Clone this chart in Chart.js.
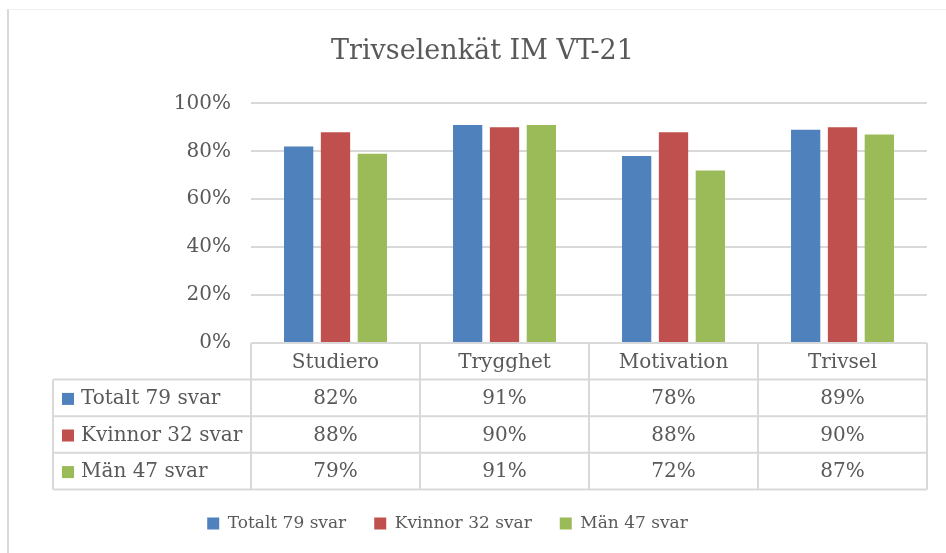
<!DOCTYPE html>
<html>
<head>
<meta charset="utf-8">
<script src="https://cdn.jsdelivr.net/npm/chart.js@4"></script>
<style>
  html, body { margin: 0; padding: 0; background: #fff; }
  #wrap { position: relative; width: 946px; height: 553px; }
  #frame { position: absolute; left: 7px; top: 9px; width: 939px; height: 544px;
           border-left: 2px solid #d9d9d9; border-top: 1px solid #f0f0f0; }
  canvas { position: absolute; left: 0; top: 0; }
</style>
</head>
<body>
<div id="wrap">
  <div id="frame"></div>
  <canvas id="chart" width="946" height="553"></canvas>
</div>
<script>
const categories = ['Studiero', 'Trygghet', 'Motivation', 'Trivsel'];
const seriesNames = ['Totalt 79 svar', 'Kvinnor 32 svar', 'Män 47 svar'];
const totalt = [82, 91, 78, 89];
const kvinnor = [88, 90, 88, 90];
const man = [79, 91, 72, 87];
const colors = ['#4F81BD', '#C0504D', '#9BBB59'];

const textColor = '#595959';
const lineColor = '#d9d9d9';
const font = 'DejaVu Serif';

// data table under the plot, lined up with the category columns
const dataTable = {
  id: 'dataTable',
  afterLayout(chart) {
    // title and legend are not centred on the same point in the original
    chart.titleBlock.left = 38;
    chart.legend.right -= 32;
  },
  afterDraw(chart) {
    const ctx = chart.ctx;
    const xs = chart.scales.x;
    const area = chart.chartArea;
    const step = xs.getPixelForValue(1) - xs.getPixelForValue(0);
    const left = area.left;
    const right = area.right;
    const top = area.bottom;
    const rowH = 36.6;
    const tableLeft = 53;
    const rows = [top, top + rowH, top + rowH * 2, top + rowH * 3, top + rowH * 4];

    ctx.save();
    ctx.strokeStyle = lineColor;
    ctx.lineWidth = 2;
    ctx.beginPath();
    ctx.moveTo(left, rows[0]); ctx.lineTo(right, rows[0]);
    for (let r = 1; r < rows.length; r++) {
      ctx.moveTo(tableLeft, rows[r]); ctx.lineTo(right, rows[r]);
    }
    ctx.moveTo(tableLeft, rows[1]); ctx.lineTo(tableLeft, rows[4]);
    for (let c = 0; c <= categories.length; c++) {
      const x = left + step * c;
      ctx.moveTo(x, rows[0]); ctx.lineTo(x, rows[4]);
    }
    ctx.stroke();

    ctx.fillStyle = textColor;
    ctx.font = '20px "' + font + '"';
    ctx.textBaseline = 'middle';
    ctx.textAlign = 'center';
    categories.forEach((cat, i) => {
      ctx.fillText(cat, xs.getPixelForValue(i), (rows[0] + rows[1]) / 2 + 1);
    });

    chart.data.datasets.forEach((ds, r) => {
      const y = (rows[r + 1] + rows[r + 2]) / 2 + 1;
      ctx.fillStyle = ds.backgroundColor;
      ctx.fillRect(62, y - 6, 12, 12);
      ctx.fillStyle = textColor;
      ctx.textAlign = 'left';
      ctx.fillText(ds.label, 81, y);
      ctx.textAlign = 'center';
      ds.data.forEach((v, i) => {
        ctx.fillText(v + '%', xs.getPixelForValue(i), y);
      });
    });
    ctx.restore();
  }
};

new Chart(document.getElementById('chart'), {
  type: 'bar',
  data: {
    labels: categories,
    datasets: [
      { label: seriesNames[0], data: totalt, backgroundColor: colors[0] },
      { label: seriesNames[1], data: kvinnor, backgroundColor: colors[1] },
      { label: seriesNames[2], data: man, backgroundColor: colors[2] }
    ]
  },
  options: {
    responsive: false,
    animation: false,
    devicePixelRatio: 1,
    categoryPercentage: 0.654,
    barPercentage: 0.795,
    layout: { padding: { left: 0, right: 19, top: 0, bottom: 11 } },
    scales: {
      x: {
        ticks: { display: false },
        grid: { display: false },
        border: { display: false },
        afterFit: s => { s.height = 144; }
      },
      y: {
        min: 0,
        max: 100,
        ticks: {
          stepSize: 20,
          padding: 20,
          color: textColor,
          font: { family: font, size: 20 },
          callback: v => v + '%'
        },
        grid: { color: lineColor, lineWidth: 2, drawTicks: false },
        border: { display: false },
        afterFit: s => { s.width = 251; }
      }
    },
    plugins: {
      title: {
        display: true,
        text: 'Trivselenkät IM VT-21',
        color: textColor,
        font: { family: font, size: 27, weight: 'normal' },
        padding: { top: 36, bottom: 35 }
      },
      legend: {
        position: 'bottom',
        labels: {
          color: textColor,
          font: { family: font, size: 17 },
          boxWidth: 12,
          boxHeight: 12,
          padding: 28
        }
      },
      tooltip: { enabled: false }
    }
  },
  plugins: [dataTable]
});
</script>
</body>
</html>
